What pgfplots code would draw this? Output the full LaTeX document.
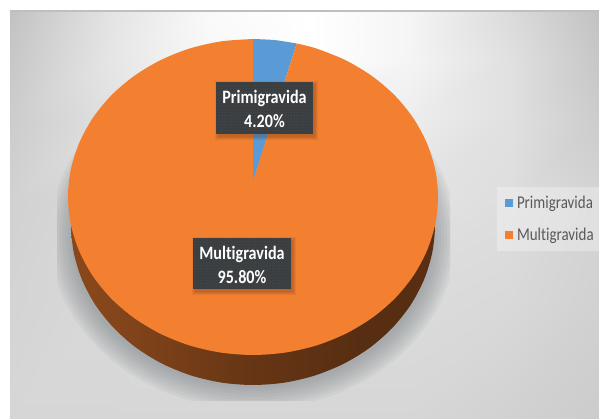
\documentclass[border=0pt]{standalone}
\usepackage{pgfplots}
\pgfplotsset{compat=1.18}
\usepackage{fontspec}
\setmainfont{Carlito}[Ligatures=CommonOff]
\usetikzlibrary{patterns}

% Chart shares
\def\valPrimi{4.20}
\def\valMulti{95.80}

% Slice boundary on the tilted top face: far side of the disc is foreshortened
\pgfmathsetmacro\thetaP{360*\valPrimi/100}
\pgfmathsetmacro\tEnd{2*atan(0.9036*tan(\thetaP/2))}
\pgfmathsetmacro\xEnd{253+185*sin(\tEnd)}
\pgfmathsetmacro\yEnd{197-158*cos(\tEnd)}
\pgfmathsetmacro\xMid{253+185*sin(\tEnd/2)}
\pgfmathsetmacro\yMid{197-158*cos(\tEnd/2)}

\definecolor{orangeTop}{HTML}{F37F31}
\definecolor{blueTop}{HTML}{5B9BD5}
\definecolor{boxDark}{HTML}{3A3E41}
\definecolor{boxDots}{HTML}{55595D}
\definecolor{legendText}{HTML}{595959}
\definecolor{shadowGray}{HTML}{7F8589}

\pgfdeclarehorizontalshading{wall}{100bp}{
  color(0bp)=(orangeTop!62!black);
  color(30bp)=(orangeTop!55!black);
  color(50bp)=(orangeTop!42!black);
  color(65bp)=(orangeTop!36!black);
  color(100bp)=(orangeTop!38!black)}

\newcommand{\dropshadow}[1]{%
  \fill[shadowGray,opacity=0.09] (axis cs:253,236) ellipse [x radius=191+#1,y radius=161+#1];}

\newcommand{\boxshadow}[5]{%
  \fill[black!70!orangeTop,opacity=0.08] (axis cs:#1-#5+3,#2-#5+3) rectangle (axis cs:#3+#5+1,#4+#5+2);}

\newcommand{\labelbox}[4]{%
  \boxshadow{#1}{#2}{#3}{#4}{4}
  \boxshadow{#1}{#2}{#3}{#4}{3}
  \boxshadow{#1}{#2}{#3}{#4}{2}
  \boxshadow{#1}{#2}{#3}{#4}{1}
  \fill[boxDark] (axis cs:#1,#2) rectangle (axis cs:#3,#4);
  \fill[pattern=dots,pattern color=boxDots] (axis cs:#1,#2) rectangle (axis cs:#3,#4);}

\tikzset{datalabel/.style={text=white,align=center,inner sep=0pt,
  font=\fontsize{15.5}{19.2}\selectfont\bfseries,
  transform shape,xscale=1.04,yscale=1.22}}

\begin{document}
\begin{tikzpicture}
\useasboundingbox (0,0) rectangle (599pt,419pt);
\begin{axis}[
  width=599pt,height=419pt,scale only axis,
  xmin=0,xmax=599,ymin=0,ymax=419,
  y dir=reverse,
  hide axis,
  clip=true,
  colormap={graybg}{gray(0cm)=(0);gray(1cm)=(1)},
  point meta min=0,point meta max=1,
  legend image code/.code={\fill[#1,draw=none] (0pt,-4pt) rectangle (8pt,4pt);},
  legend cell align=left,
  legend style={at={(505/599,1-196/419)},anchor=north west,draw=none,fill=none,
    inner sep=0pt,outer sep=0pt,
    font=\fontsize{14.4}{16}\selectfont\color{legendText},
    row sep=18pt,
    /tikz/every odd column/.append style={column sep=4pt},
    nodes={inner sep=0pt,outer sep=0pt}},
]
% Panel background with its soft spot at the top
\addplot[surf,shader=interp,forget plot,mesh/cols=7,point meta=\thisrow{g}] table {
x y g
10 11 0.76
110 11 0.89
210 11 0.98
310 11 1.00
410 11 0.96
510 11 0.86
599 11 0.76
10 60 0.78
110 60 0.90
210 60 0.97
310 60 1.00
410 60 0.96
510 60 0.88
599 60 0.78
10 120 0.80
110 120 0.88
210 120 0.93
310 120 0.94
410 120 0.93
510 120 0.88
599 120 0.80
10 200 0.82
110 200 0.85
210 200 0.88
310 200 0.89
410 200 0.89
510 200 0.87
599 200 0.83
10 300 0.83
110 300 0.85
210 300 0.86
310 300 0.86
410 300 0.86
510 300 0.85
599 300 0.82
10 419 0.84
110 419 0.84
210 419 0.84
310 419 0.84
410 419 0.84
510 419 0.82
599 419 0.80
};

% Panel border along the top
\draw[color=black!25,line width=1.4pt] (axis cs:10,11) -- (axis cs:599,11);

% Drop shadow under the disc
\begin{scope}
  \clip (axis cs:57,120) rectangle (axis cs:450,400);
  \dropshadow{12}\dropshadow{9}\dropshadow{6}\dropshadow{3}
  \dropshadow{0}\dropshadow{-3}\dropshadow{-6}\dropshadow{-9}
\end{scope}

% Side wall
\addplot[shading=wall,draw=none,smooth,forget plot] coordinates {
(432.2,197.2) (435,225) (432.2,252.8) (424,279.7) (410.6,305) (392.4,327.8)
(370,347.6) (344,363.6) (315.2,375.4) (284.6,382.6) (253,385) (221.4,382.6)
(190.8,375.4) (162,363.6) (136,347.6) (113.6,327.8) (95.4,305) (82,279.7)
(73.8,252.8) (71,225) (73.8,197.2)} -- cycle;

% Top face: Primigravida slice
\addplot[fill=blueTop,draw=none,smooth] coordinates {
(253,39) (\xMid,\yMid) (\xEnd,\yEnd)} -- (axis cs:253,181) -- cycle;
\addlegendentry{\scalebox{1.04}[1.25]{Primigravida}}

% Top face: Multigravida slice
\addplot[fill=orangeTop,draw=none,smooth] coordinates {
(\xEnd,\yEnd)
(316.3,48.5) (345.5,60.2) (371.9,76) (394.7,95.4) (413.2,118) (426.8,143)
(435.2,169.6) (438,197) (435.2,224.4) (426.8,251) (413.2,276) (394.7,298.6)
(371.9,318) (345.5,333.8) (316.3,345.5) (285.1,352.6) (253,355) (220.9,352.6)
(189.7,345.5) (160.5,333.8) (134.1,318) (111.3,298.6) (92.8,276) (79.2,251)
(70.8,224.4) (68,197) (70.8,169.6) (79.2,143) (92.8,118) (111.3,95.4)
(134.1,76) (160.5,60.2) (189.7,48.5) (220.9,41.4) (253,39)} -- (axis cs:253,181) -- cycle;
\addlegendentry{\scalebox{1.04}[1.25]{Multigravida}}

% Data labels
\labelbox{216}{82}{313}{134}
\labelbox{193}{238}{291}{289}
\node[datalabel] at (axis cs:264.5,109) {Primigravida\\\valPrimi\%};
\node[datalabel] at (axis cs:242,265) {Multigravida\\\valMulti\%};

% Legend panel
\fill[white,opacity=0.3] (axis cs:497,187) rectangle (axis cs:599,251);
\end{axis}
\end{tikzpicture}
\end{document}
